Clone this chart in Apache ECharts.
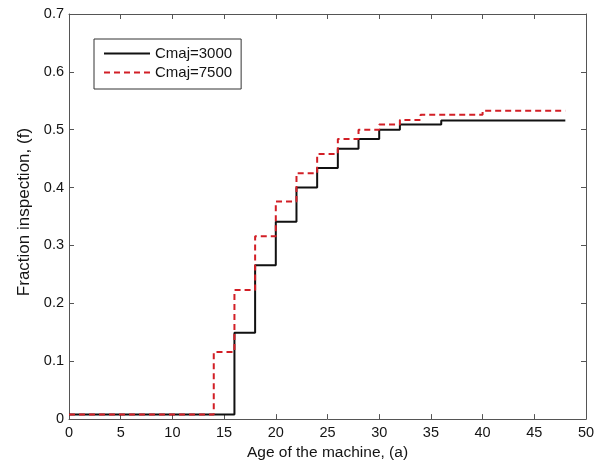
<!DOCTYPE html>
<html>
<head>
<meta charset="utf-8">
<script src="https://cdn.jsdelivr.net/npm/echarts@6/dist/echarts.min.js"></script>
<style>
  html, body { margin: 0; padding: 0; background: #fff; }
  #chart { width: 602px; height: 466px; }
</style>
</head>
<body>
<div id="chart"></div>
<script>
// Step breakpoints: age (years) where the fraction changes, and the value that holds from there on
const ageLow = [0, 16, 18, 20, 22, 24, 26, 28, 30, 32, 36, 48];
const fracLow = [0.008, 0.149, 0.266, 0.341, 0.400, 0.434, 0.467, 0.484, 0.500, 0.509, 0.516, 0.516];

const ageHigh = [0, 14, 16, 18, 20, 22, 24, 26, 28, 30, 32, 34, 40, 48];
const fracHigh = [0.008, 0.116, 0.223, 0.316, 0.376, 0.425, 0.458, 0.484, 0.500, 0.509, 0.517, 0.526, 0.533, 0.533];

const seriesNames = ['Cmaj=3000', 'Cmaj=7500'];
const xTitle = 'Age of the machine, (a)';
const yTitle = 'Fraction inspection, (f)';

const pairs = (xs, ys) => xs.map((x, i) => [x, ys[i]]);

const font = 'Liberation Sans, Arial, sans-serif';
const frame = '#555';
const textColor = '#141414';

const hiddenAxis = (pos) => ({
  position: pos,
  axisLine: { show: true, onZero: false, lineStyle: { color: frame, width: 1 } },
  axisTick: { show: true, inside: true, length: 5, lineStyle: { color: frame } },
  axisLabel: { show: false },
  splitLine: { show: false }
});

const chart = echarts.init(document.getElementById('chart'));
chart.setOption({
  animation: false,
  backgroundColor: '#fff',
  grid: { left: 69, right: 16, top: 14, bottom: 46 },
  legend: {
    left: 94,
    top: 39,
    orient: 'vertical',
    itemWidth: 46,
    itemHeight: 14,
    itemGap: 4,
    padding: [7, 9, 9, 9],
    borderColor: '#333',
    borderWidth: 1,
    backgroundColor: '#fff',
    itemStyle: { opacity: 0 },
    textStyle: { fontFamily: font, fontSize: 15, color: textColor },
    data: seriesNames
  },
  xAxis: [
    {
      type: 'value', min: 0, max: 50, interval: 5,
      position: 'bottom',
      name: xTitle, nameLocation: 'middle', nameGap: 25,
      nameTextStyle: { fontFamily: font, fontSize: 15.5, color: textColor },
      axisLine: { show: true, onZero: false, lineStyle: { color: frame, width: 1 } },
      axisTick: { show: true, inside: true, length: 5, lineStyle: { color: frame } },
      axisLabel: { fontFamily: font, fontSize: 14.5, color: textColor, margin: 6 },
      splitLine: { show: false }
    },
    Object.assign({ type: 'value', min: 0, max: 50, interval: 5 }, hiddenAxis('top'))
  ],
  yAxis: [
    {
      type: 'value', min: 0, max: 0.7, interval: 0.1,
      position: 'left',
      name: yTitle, nameLocation: 'middle', nameGap: 31,
      nameTextStyle: { fontFamily: font, fontSize: 17, color: textColor, padding: [0, 0, 0, 9] },
      axisLine: { show: true, onZero: false, lineStyle: { color: frame, width: 1 } },
      axisTick: { show: true, inside: true, length: 5, lineStyle: { color: frame } },
      axisLabel: { fontFamily: font, fontSize: 14.5, color: textColor, margin: 5 },
      splitLine: { show: false }
    },
    Object.assign({ type: 'value', min: 0, max: 0.7, interval: 0.1 }, hiddenAxis('right'))
  ],
  series: [
    {
      name: seriesNames[0], type: 'line', step: 'end',
      showSymbol: false, symbol: 'none',
      data: pairs(ageLow, fracLow),
      lineStyle: { color: '#111', width: 2 },
      itemStyle: { color: '#111' },
      z: 3
    },
    {
      name: seriesNames[1], type: 'line', step: 'end',
      showSymbol: false, symbol: 'none',
      data: pairs(ageHigh, fracHigh),
      lineStyle: { color: '#d21f26', width: 2, type: [6, 4] },
      itemStyle: { color: '#d21f26' },
      z: 4
    }
  ]
});
</script>
</body>
</html>
